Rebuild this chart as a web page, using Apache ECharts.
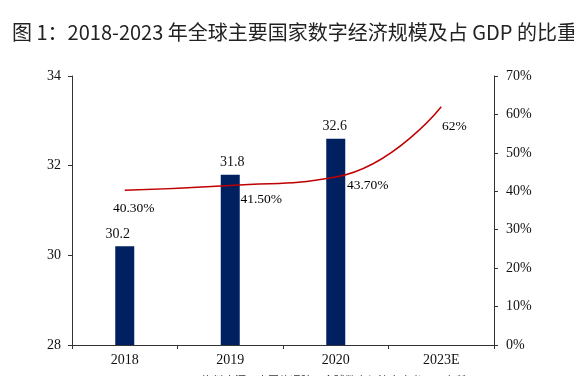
<!DOCTYPE html>
<html><head><meta charset="utf-8">
<script src="https://cdn.jsdelivr.net/npm/echarts@6/dist/echarts.min.js"></script>
<style>html,body{margin:0;padding:0;background:#fff}#c{width:574px;height:376px}</style>
</head><body><div id="c"></div>
<script>
const categories = ['2018', '2019', '2020', '2023E'];
const scaleValues = [30.2, 31.8, 32.6, null];
const shareValues = [40.3, 41.5, 43.7, 62];
const shareLabels = ['40.30%', '41.50%', '43.70%', '62%'];
const titleText = '图 1：2018-2023 年全球主要国家数字经济规模及占 GDP 的比重';
const sourceText = '资料来源：中国信通院，全球数字经济白皮书，研究所';

const serif = '"Liberation Serif", "Times New Roman", serif';
const labelOffsets = [[9, 5], [31, 1], [32, -5], [13, 7]];
const barLabelOffsets = [[-7, 0], [2, 0], [-1, 0], [0, 0]];

const chart = echarts.init(document.getElementById('c'));
chart.setOption({
  animation: false,
  title: {
    text: titleText, left: 7, top: 17,
    textStyle: { fontFamily: '"Noto Sans CJK SC"', fontSize: 20, fontWeight: 'normal', color: '#222' }
  },
  graphic: [{
    type: 'text', left: 202, top: 375,
    style: { text: sourceText, font: '11px "Noto Sans CJK SC"', fill: '#333' }
  }],
  grid: { left: 72, right: 80, top: 76, bottom: 31 },
  xAxis: {
    type: 'category', data: categories,
    axisLine: { lineStyle: { color: '#333', width: 1 } },
    axisTick: { show: true, length: 4, lineStyle: { color: '#333' } },
    axisLabel: { fontFamily: serif, fontSize: 14, color: '#111', margin: 8 }
  },
  yAxis: [
    {
      type: 'value', min: 28, max: 34, interval: 2,
      axisLine: { show: true, lineStyle: { color: '#333' } },
      axisTick: { show: true, length: 4, lineStyle: { color: '#333' } },
      splitLine: { show: false },
      axisLabel: { fontFamily: serif, fontSize: 14, color: '#111', margin: 11 }
    },
    {
      type: 'value', min: 0, max: 70, interval: 10,
      axisLine: { show: true, lineStyle: { color: '#333' } },
      axisTick: { show: true, length: 4, lineStyle: { color: '#333' } },
      splitLine: { show: false },
      axisLabel: { fontFamily: serif, fontSize: 14, color: '#111', margin: 12, formatter: '{value}%' }
    }
  ],
  series: [
    {
      name: '全球数字经济规模（万亿美元）', type: 'bar', barWidth: 19,
      itemStyle: { color: '#002060' },
      data: scaleValues.map((v, i) => ({
        value: v,
        label: { show: true, position: 'top', distance: 5, offset: barLabelOffsets[i],
          fontFamily: serif, fontSize: 14, color: '#111' }
      }))
    },
    {
      name: '占GDP比重（右轴）', type: 'line', yAxisIndex: 1, smooth: 0.5,
      symbol: 'none',
      lineStyle: { color: '#C00000', width: 1.5 },
      data: shareValues
    },
    {
      name: '占GDP比重标签', type: 'scatter', yAxisIndex: 1,
      symbolSize: 2, itemStyle: { color: '#ffffff', opacity: 0.01 },
      silent: true, z: 5,
      data: shareValues.map((v, i) => ({
        value: v,
        label: {
          show: true, position: 'bottom', distance: 5, offset: labelOffsets[i],
          formatter: shareLabels[i], fontFamily: serif, fontSize: 13.5, color: '#000', opacity: 1
        }
      }))
    }
  ]
});
</script></body></html>
